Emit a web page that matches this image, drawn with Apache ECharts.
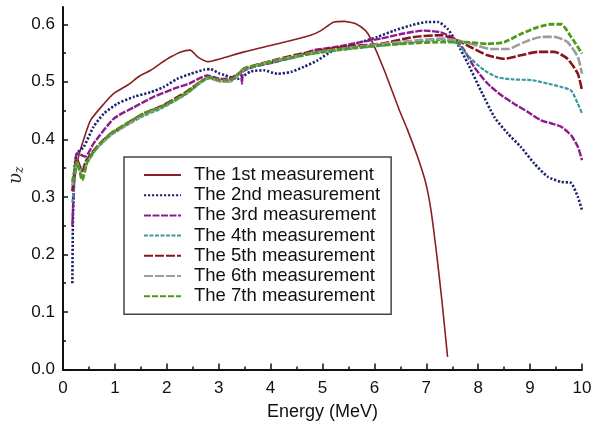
<!DOCTYPE html>
<html>
<head>
<meta charset="utf-8">
<script src="https://cdn.jsdelivr.net/npm/echarts@6/dist/echarts.min.js"></script>
<style>
  html, body { margin: 0; padding: 0; background: #fff; }
  #chart { width: 593px; height: 428px; }
</style>
</head>
<body>
<div id="chart"></div>
<script>
// Measurement names shown in the legend
const seriesNames = [
  'The 1st measurement', 'The 2nd measurement', 'The 3rd measurement',
  'The 4th measurement', 'The 5th measurement', 'The 6th measurement',
  'The 7th measurement'
];

// Tick values
const yMajorTicks = [0, 0.1, 0.2, 0.3, 0.4, 0.5, 0.6];
const yMinorTicks = [0.05, 0.15, 0.25, 0.35, 0.45, 0.55];

// [energy (MeV), v_z] pairs for each measurement
const m1 = [[0.2,0.32],[0.3,0.37],[0.4,0.40],[0.53,0.433],[0.79,0.462],[0.98,0.48],[1.24,0.494],[1.49,0.511],[1.69,0.52],[1.88,0.532],[2.07,0.543],[2.27,0.552],[2.45,0.555],[2.6,0.543],[2.8,0.535],[3.04,0.54],[3.49,0.552],[4.13,0.566],[4.77,0.581],[4.97,0.589],[5.22,0.604],[5.42,0.605],[5.64,0.601],[5.83,0.589],[5.93,0.575],[6.19,0.52],[6.48,0.451],[6.64,0.416],[6.83,0.37],[6.99,0.324],[7.09,0.277],[7.2,0.2],[7.3,0.12],[7.41,0.022]];
const m2 = [[0.18,0.15],[0.19,0.25],[0.2,0.3],[0.22,0.35],[0.27,0.376],[0.4,0.387],[0.59,0.422],[0.79,0.445],[1.05,0.462],[1.37,0.474],[1.69,0.482],[1.94,0.491],[2.2,0.505],[2.46,0.514],[2.72,0.521],[2.84,0.522],[3.0,0.515],[3.1,0.512],[3.36,0.505],[3.62,0.518],[3.87,0.52],[4.13,0.514],[4.39,0.517],[4.64,0.526],[4.9,0.537],[5.16,0.552],[5.42,0.56],[5.74,0.569],[6.06,0.578],[6.38,0.589],[6.7,0.598],[7.02,0.604],[7.22,0.604],[7.41,0.592],[7.6,0.566],[7.8,0.532],[8.05,0.485],[8.31,0.439],[8.57,0.41],[8.82,0.387],[9.08,0.358],[9.34,0.335],[9.6,0.326],[9.79,0.324],[9.92,0.3],[10,0.277]];
const m3 = [[0.18,0.25],[0.22,0.33],[0.27,0.376],[0.43,0.37],[0.59,0.393],[0.98,0.436],[1.37,0.456],[1.75,0.474],[2.14,0.488],[2.43,0.497],[2.78,0.511],[3.04,0.505],[3.23,0.507],[3.42,0.515],[3.45,0.497],[3.47,0.518],[3.68,0.526],[4.07,0.534],[4.45,0.543],[4.84,0.555],[5.22,0.56],[5.74,0.569],[6.12,0.575],[6.51,0.583],[6.96,0.589],[7.28,0.586],[7.54,0.575],[7.73,0.555],[7.92,0.526],[8.18,0.497],[8.44,0.477],[8.69,0.462],[8.95,0.448],[9.21,0.433],[9.4,0.428],[9.6,0.422],[9.79,0.407],[9.92,0.387],[10,0.364]];
const m4 = [[0.18,0.29],[0.27,0.355],[0.35,0.345],[0.45,0.365],[0.66,0.385],[0.92,0.407],[1.24,0.425],[1.56,0.441],[1.88,0.453],[2.14,0.466],[2.4,0.48],[2.65,0.498],[2.81,0.506],[3.04,0.502],[3.23,0.502],[3.49,0.521],[3.75,0.528],[4.13,0.536],[4.45,0.542],[4.77,0.548],[5.42,0.556],[6.06,0.562],[6.7,0.568],[7.28,0.573],[7.5,0.57],[7.6,0.566],[7.86,0.54],[8.12,0.52],[8.37,0.508],[8.69,0.504],[9.02,0.503],[9.34,0.497],[9.6,0.491],[9.79,0.485],[9.92,0.462],[10,0.445]];
const m5 = [[0.18,0.31],[0.27,0.365],[0.37,0.345],[0.47,0.365],[0.66,0.388],[0.92,0.41],[1.24,0.428],[1.56,0.445],[1.88,0.457],[2.14,0.47],[2.4,0.484],[2.65,0.5],[2.81,0.507],[3.04,0.501],[3.23,0.502],[3.49,0.523],[3.75,0.53],[4.13,0.539],[4.45,0.546],[4.77,0.552],[5.42,0.561],[6.12,0.566],[6.77,0.578],[7.28,0.581],[7.6,0.572],[7.86,0.56],[8.18,0.546],[8.5,0.54],[8.82,0.546],[9.15,0.552],[9.47,0.552],[9.72,0.54],[9.92,0.514],[10,0.485]];
const m6 = [[0.18,0.32],[0.27,0.36],[0.37,0.335],[0.47,0.36],[0.66,0.385],[0.92,0.408],[1.24,0.426],[1.56,0.443],[1.88,0.455],[2.14,0.467],[2.4,0.481],[2.65,0.499],[2.81,0.507],[3.04,0.501],[3.23,0.501],[3.49,0.522],[3.75,0.529],[4.13,0.538],[4.45,0.544],[4.77,0.55],[5.42,0.558],[6.06,0.565],[6.7,0.571],[7.28,0.575],[7.6,0.572],[7.86,0.566],[8.24,0.557],[8.57,0.557],[8.89,0.569],[9.21,0.578],[9.47,0.578],[9.72,0.569],[9.92,0.543],[10,0.514]];
const m7 = [[0.18,0.326],[0.27,0.361],[0.37,0.329],[0.47,0.361],[0.66,0.387],[0.92,0.41],[1.24,0.428],[1.56,0.445],[1.88,0.456],[2.14,0.468],[2.4,0.482],[2.65,0.5],[2.81,0.508],[3.04,0.503],[3.23,0.503],[3.49,0.523],[3.75,0.529],[4.13,0.537],[4.45,0.543],[4.77,0.549],[5.42,0.557],[6.06,0.563],[6.7,0.567],[7.28,0.569],[7.6,0.569],[7.73,0.569],[8.18,0.566],[8.5,0.569],[8.82,0.583],[9.15,0.595],[9.4,0.6],[9.6,0.6],[9.79,0.578],[10,0.549]];

const seriesData = [m1, m2, m3, m4, m5, m6, m7];

// Line appearance per measurement
const lineStyles = [
  { color: '#8a1f22', width: 1.6, type: 'solid' },
  { color: '#1d2470', width: 2.6, type: [2.2, 1.8] },
  { color: '#8c1c8e', width: 2.4, type: [7, 1.5] },
  { color: '#3a9aa0', width: 2.2, type: [4, 1.5] },
  { color: '#86161c', width: 2.6, type: [9, 2] },
  { color: '#9c9c9c', width: 2.6, type: [9, 2] },
  { color: '#4c9a18', width: 2.8, type: [6, 2] }
];

const FONT = 'Liberation Sans, Arial, sans-serif';
const chart = echarts.init(document.getElementById('chart'), null, { renderer: 'canvas' });

chart.setOption({
  animation: false,
  backgroundColor: '#fff',
  grid: { left: 63, right: 11, top: 7, bottom: 58.5, containLabel: false, outerBoundsMode: 'none' },
  legend: {
    orient: 'vertical',
    left: 124,
    top: 157,
    padding: [8, 11, 8, 19],
    itemWidth: 37,
    itemHeight: 14,
    itemGap: 0.2,
    backgroundColor: '#fff',
    borderColor: '#444',
    borderWidth: 1.5,
    borderRadius: 0,
    // hide the marker drawn on top of each legend line sample
    itemStyle: { color: 'rgba(0,0,0,0)', borderColor: 'rgba(0,0,0,0)', borderWidth: 0, opacity: 0 },
    textStyle: { fontFamily: FONT, fontSize: 18.5, lineHeight: 20, color: '#111', padding: [0, 0, 0, 8] },
    data: seriesNames
  },
  xAxis: {
    type: 'value',
    min: 0,
    max: 10,
    interval: 1,
    name: 'Energy (MeV)',
    nameLocation: 'middle',
    nameGap: 34,
    nameMoveOverlap: false,
    nameTextStyle: { fontFamily: FONT, fontSize: 18, color: '#111' },
    axisLine: { show: true, onZero: false, lineStyle: { color: '#111', width: 2 } },
    axisTick: { show: true, inside: true, length: 6, lineStyle: { color: '#111', width: 1.5 } },
    minorTick: { show: true, splitNumber: 2, length: 3, lineStyle: { color: '#111', width: 1.5 } },
    axisLabel: { fontFamily: FONT, fontSize: 17, color: '#111', margin: 10 },
    splitLine: { show: false }
  },
  yAxis: [
    {
      type: 'value',
      min: 0,
      max: 0.63,
      interval: 0.1,
      name: '{v|υ}{s|z}',
      nameLocation: 'middle',
      nameRotate: 90,
      nameGap: 37,
      nameMoveOverlap: false,
      nameTextStyle: {
        padding: [0, 0, 0, 26],
        rich: {
          v: { fontFamily: 'DejaVu Serif, serif', fontStyle: 'italic', fontSize: 18, color: '#222' },
          s: { fontFamily: 'DejaVu Serif, serif', fontStyle: 'italic', fontSize: 12, color: '#222', verticalAlign: 'bottom', padding: [8, 0, 0, 0] }
        }
      },
      axisLine: { show: true, onZero: false, lineStyle: { color: '#111', width: 2 } },
      axisTick: { show: true, inside: true, length: 5, customValues: yMajorTicks, lineStyle: { color: '#111', width: 1.5 } },
      axisLabel: {
        fontFamily: FONT, fontSize: 17, color: '#111', margin: 8,
        customValues: yMajorTicks,
        formatter: v => v.toFixed(1)
      },
      splitLine: { show: false }
    },
    {
      type: 'value',
      position: 'left',
      offset: 0,
      min: 0,
      max: 0.63,
      interval: 0.1,
      axisLine: { show: false },
      axisTick: { show: true, inside: true, length: 3, customValues: yMinorTicks, lineStyle: { color: '#111', width: 1.5 } },
      axisLabel: { show: false },
      splitLine: { show: false }
    }
  ],
  series: seriesData.map((d, i) => ({
    name: seriesNames[i],
    type: 'line',
    data: d,
    yAxisIndex: 0,
    showSymbol: false,
    symbol: 'none',
    smooth: 0.2,
    lineStyle: {
      color: lineStyles[i].color,
      width: lineStyles[i].width,
      type: lineStyles[i].type,
      cap: 'butt',
      join: 'round'
    },
    itemStyle: { color: lineStyles[i].color },
    z: 2 + i
  }))
});
</script>
</body>
</html>
